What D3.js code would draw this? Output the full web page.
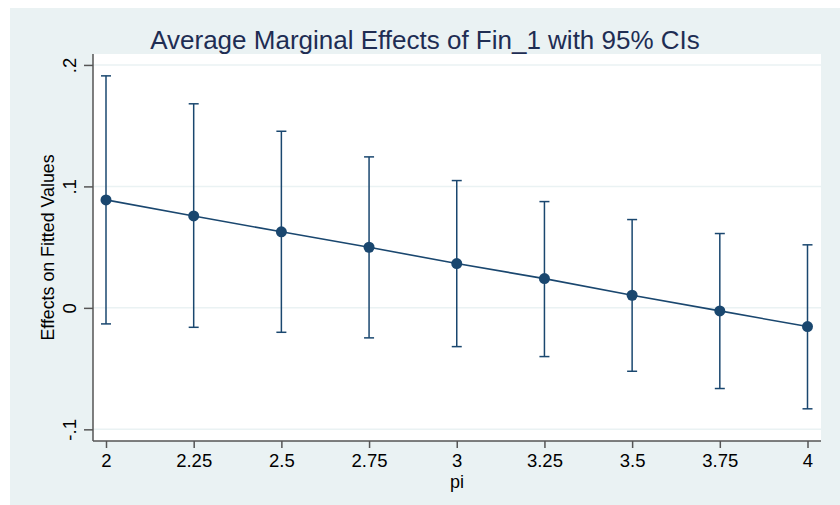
<!DOCTYPE html>
<html>
<head>
<meta charset="utf-8">
<script src="https://d3js.org/d3.v7.min.js"></script>
<style>
    html, body { margin: 0; padding: 0; background: #ffffff; }
    svg text { font-family: 'Liberation Sans', Arial, Helvetica, sans-serif; fill: #000000; }
</style>
</head>
<body>
<svg id="chart" width="840" height="505"></svg>
<script>
var piValues = [2, 2.25, 2.5, 2.75, 3, 3.25, 3.5, 3.75, 4];
var margins  = [0.0889, 0.0757, 0.0626, 0.0499, 0.0365, 0.0241, 0.0104, -0.0025, -0.0154];
var ciUpper  = [0.1910, 0.1680, 0.1454, 0.1243, 0.1048, 0.0875, 0.0727, 0.0612, 0.0519];
var ciLower  = [-0.0132, -0.0160, -0.0201, -0.0247, -0.0319, -0.0401, -0.0522, -0.0664, -0.0831];
var yTicks = [-0.1, 0, 0.1, 0.2];
var yTickLabels = ["-.1", "0", ".1", ".2"];
var xTickLabels = ["2", "2.25", "2.5", "2.75", "3", "3.25", "3.5", "3.75", "4"];

var navy = "#1a476f";
var bg = "#eaf2f3";

var svg = d3.select("#chart");

// outer graph region
svg.append("rect")
    .attr("x", 10).attr("y", 8)
    .attr("width", 830).attr("height", 497)
    .attr("fill", bg);

var plot = { left: 93, right: 821, top: 54, bottom: 441 };

svg.append("rect")
    .attr("x", plot.left).attr("y", plot.top)
    .attr("width", plot.right - plot.left)
    .attr("height", plot.bottom - plot.top)
    .attr("fill", "#ffffff");

var x = d3.scaleLinear().domain([2, 4]).range([106, 807.5]);
var y = d3.scaleLinear().domain([-0.1096, 0.209]).range([plot.bottom, plot.top]);

// grid lines
svg.append("g").selectAll("line")
    .data(yTicks)
    .enter().append("line")
    .attr("x1", plot.left).attr("x2", plot.right)
    .attr("y1", function(d) { return y(d); })
    .attr("y2", function(d) { return y(d); })
    .attr("stroke", bg)
    .attr("stroke-width", 1.5);

// y axis
var yAxis = d3.axisLeft(y)
    .tickValues(yTicks)
    .tickSize(9)
    .tickFormat(function(d, i) { return yTickLabels[i]; });

var gy = svg.append("g")
    .attr("transform", "translate(" + plot.left + ",0)")
    .call(yAxis);
gy.select(".domain").remove();
gy.selectAll(".tick line").attr("stroke", "#555555").attr("stroke-width", 1.5);
gy.selectAll(".tick text")
    .attr("x", 0).attr("y", 0).attr("dy", null)
    .attr("transform", "translate(-17,0) rotate(-90)")
    .attr("text-anchor", "middle")
    .style("font-size", "18.5px");

// x axis
var xAxis = d3.axisBottom(x)
    .tickValues(piValues)
    .tickSize(7)
    .tickFormat(function(d, i) { return xTickLabels[i]; });

var gx = svg.append("g")
    .attr("transform", "translate(0," + plot.bottom + ")")
    .call(xAxis);
gx.select(".domain").remove();
gx.selectAll(".tick line").attr("stroke", "#555555").attr("stroke-width", 1.5);
gx.selectAll(".tick text")
    .attr("y", 26).attr("dy", null)
    .style("font-size", "18.5px");

// axis lines
svg.append("line")
    .attr("x1", plot.left).attr("x2", plot.left)
    .attr("y1", plot.top).attr("y2", plot.bottom)
    .attr("stroke", "#555555").attr("stroke-width", 1.5);
svg.append("line")
    .attr("x1", plot.left).attr("x2", plot.right)
    .attr("y1", plot.bottom).attr("y2", plot.bottom)
    .attr("stroke", "#555555").attr("stroke-width", 1.5);

// error bars
var bars = svg.append("g").selectAll("g")
    .data(piValues)
    .enter().append("g");

bars.append("line")
    .attr("x1", function(d) { return x(d); })
    .attr("x2", function(d) { return x(d); })
    .attr("y1", function(d, i) { return y(ciLower[i]); })
    .attr("y2", function(d, i) { return y(ciUpper[i]); })
    .attr("stroke", navy).attr("stroke-width", 1.5);

bars.append("line")
    .attr("x1", function(d) { return x(d) - 5; })
    .attr("x2", function(d) { return x(d) + 5; })
    .attr("y1", function(d, i) { return y(ciUpper[i]); })
    .attr("y2", function(d, i) { return y(ciUpper[i]); })
    .attr("stroke", navy).attr("stroke-width", 1.5);

bars.append("line")
    .attr("x1", function(d) { return x(d) - 5; })
    .attr("x2", function(d) { return x(d) + 5; })
    .attr("y1", function(d, i) { return y(ciLower[i]); })
    .attr("y2", function(d, i) { return y(ciLower[i]); })
    .attr("stroke", navy).attr("stroke-width", 1.5);

// connecting line
var line = d3.line()
    .x(function(d) { return x(d); })
    .y(function(d, i) { return y(margins[i]); });

svg.append("path")
    .datum(piValues)
    .attr("d", line)
    .attr("fill", "none")
    .attr("stroke", navy)
    .attr("stroke-width", 1.6);

// markers
svg.append("g").selectAll("circle")
    .data(piValues)
    .enter().append("circle")
    .attr("cx", function(d) { return x(d); })
    .attr("cy", function(d, i) { return y(margins[i]); })
    .attr("r", 5.5)
    .attr("fill", navy);

// titles
svg.append("text")
    .attr("x", 425).attr("y", 49)
    .attr("text-anchor", "middle")
    .style("font-size", "26px")
    .style("fill", "#1e2d53")
    .text("Average Marginal Effects of Fin_1 with 95% CIs");

svg.append("text")
    .attr("x", (plot.left + plot.right) / 2).attr("y", 488)
    .attr("text-anchor", "middle")
    .style("font-size", "18px")
    .text("pi");

svg.append("text")
    .attr("transform", "translate(54," + ((plot.top + plot.bottom) / 2) + ") rotate(-90)")
    .attr("text-anchor", "middle")
    .style("font-size", "17.8px")
    .text("Effects on Fitted Values");
</script>
</body>
</html>
